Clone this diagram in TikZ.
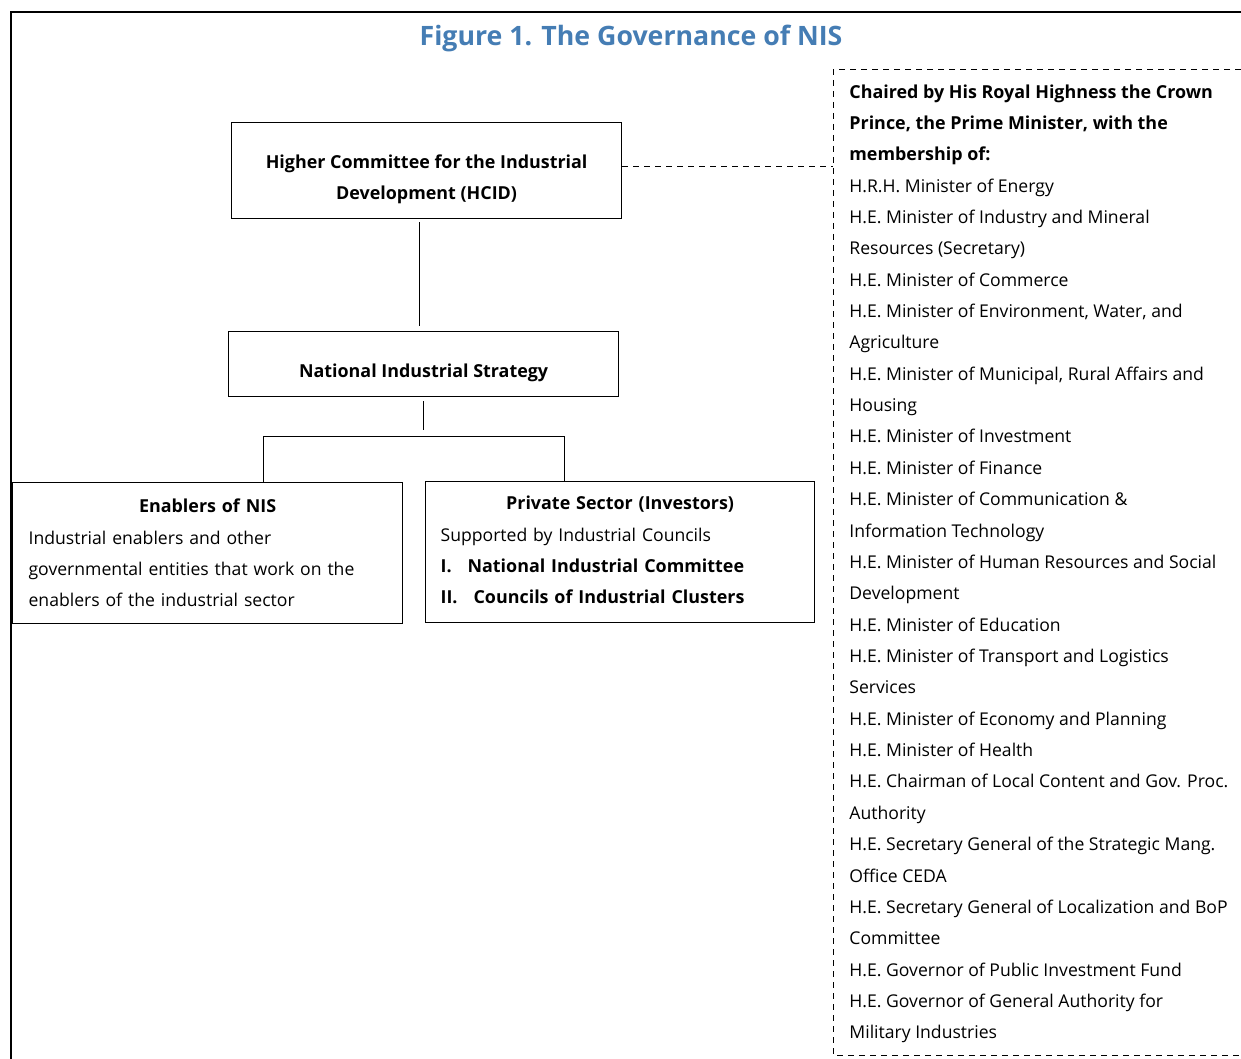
\documentclass[tikz,border=0pt]{standalone}
\usepackage{fontspec}
\setmainfont{Open Sans}
\usetikzlibrary{positioning, calc}
\definecolor{titleblue}{RGB}{69,125,180}
\newcommand{\bodyfont}{\fontsize{8.8}{15.68}\selectfont}
\newcommand{\headfont}{\fontsize{8.95}{15.68}\selectfont\bfseries}
\newcommand{\topgap}{\rule{0pt}{15.3pt}} % pushes the first line of a box down
\newcommand{\lowgap}{\rule[-2pt]{0pt}{2pt}} % pushes the last line of a box up
\tikzset{
box/.style={draw, line width=0.6pt, inner ysep=0pt}, % framed boxes of the chart
link/.style={line width=0.5pt}, % solid connectors
dashlink/.style={line width=0.5pt, dash pattern=on 3pt off 2.5pt}, % dashed lines
}

\begin{document}
\begin{tikzpicture}[x=0.5pt, y=-0.5pt, font=\bodyfont]
  \useasboundingbox (0,0) rectangle (1241,1059);
  \draw[line width=1.1pt] (11,1059) -- (11,12) -- (1241,12);

  \node[font=\fontsize{13.35}{16}\selectfont\bfseries, text=titleblue] (title) at (631,38) {Figure 1. The Governance of NIS};

  \node[box, anchor=north west, minimum width=195pt, minimum height=48pt, align=center, font=\headfont] (hcid) at (231,122)
    {\topgap Higher Committee for the Industrial\\ Development (HCID)};
  \node[box, anchor=north west, minimum width=195pt, minimum height=32.5pt, font=\headfont] (nis) at (228,331)
    {\topgap National Industrial Strategy};
  \node[box, anchor=north west, minimum height=70.5pt, text width=179pt, inner xsep=8pt] (enab) at (12,482)
    {{\centering\headfont Enablers of NIS\par}\raggedright
     Industrial enablers and other\\ governmental entities that work on the\\ enablers of the industrial sector};
  \node[box, anchor=north west, minimum height=70.5pt, text width=179.5pt, inner xsep=7.5pt] (priv) at (425,481)
    {{\centering\headfont Private Sector (Investors)\par}\raggedright
     Supported by Industrial Councils\\
     {\headfont\makebox[13.5pt][l]{I.}National Industrial Committee}\\
     {\headfont\makebox[16.5pt][l]{II.}Councils of Industrial Clusters}\lowgap};

  % members of the committee
  \coordinate (fr) at (833,70);
  \draw[dashlink] (1241,70) -- (fr) -- (833,1055) -- (1241,1055);
  \node[anchor=north west, inner sep=0pt, align=left] (members) at (849,84)
    {{\headfont Chaired by His Royal Highness the Crown}\\
     {\headfont Prince, the Prime Minister, with the}\\
     {\headfont membership of:}\\
     H.R.H. Minister of Energy\\
     H.E. Minister of Industry and Mineral\\
     Resources (Secretary)\\
     H.E. Minister of Commerce\\
     H.E. Minister of Environment, Water, and\\
     Agriculture\\
     H.E. Minister of Municipal, Rural Affairs and\\
     Housing\\
     H.E. Minister of Investment\\
     H.E. Minister of Finance\\
     H.E. Minister of Communication \&\\
     Information Technology\\
     H.E. Minister of Human Resources and Social\\
     Development\\
     H.E. Minister of Education\\
     H.E. Minister of Transport and Logistics\\
     Services\\
     H.E. Minister of Economy and Planning\\
     H.E. Minister of Health\\
     H.E. Chairman of Local Content and Gov. Proc.\\
     Authority\\
     H.E. Secretary General of the Strategic Mang.\\
     Office CEDA\\
     H.E. Secretary General of Localization and BoP\\
     Committee\\
     H.E. Governor of Public Investment Fund\\
     H.E. Governor of General Authority for\\
     Military Industries};

  % connectors
  \coordinate (hc) at ([xshift=-3.5pt]hcid.south);
  \draw[link, shorten <=1.5pt, shorten >=2.5pt] (hc) -- (hc |- nis.north);
  \coordinate[below=19.5pt of nis.south] (fork);
  \draw[link, shorten <=2pt, shorten >=3pt] (nis.south) -- (fork);
  \coordinate (el) at ([xshift=28pt]enab.north);
  \coordinate (pl) at ([xshift=-27.75pt]priv.north);
  \draw[link] (el) -- (el |- fork) -- (pl |- fork) -- (pl);
  \draw[dashlink] ([yshift=2pt]hcid.east) -- ([yshift=2pt]hcid.east -| fr);
\end{tikzpicture}
\end{document}
